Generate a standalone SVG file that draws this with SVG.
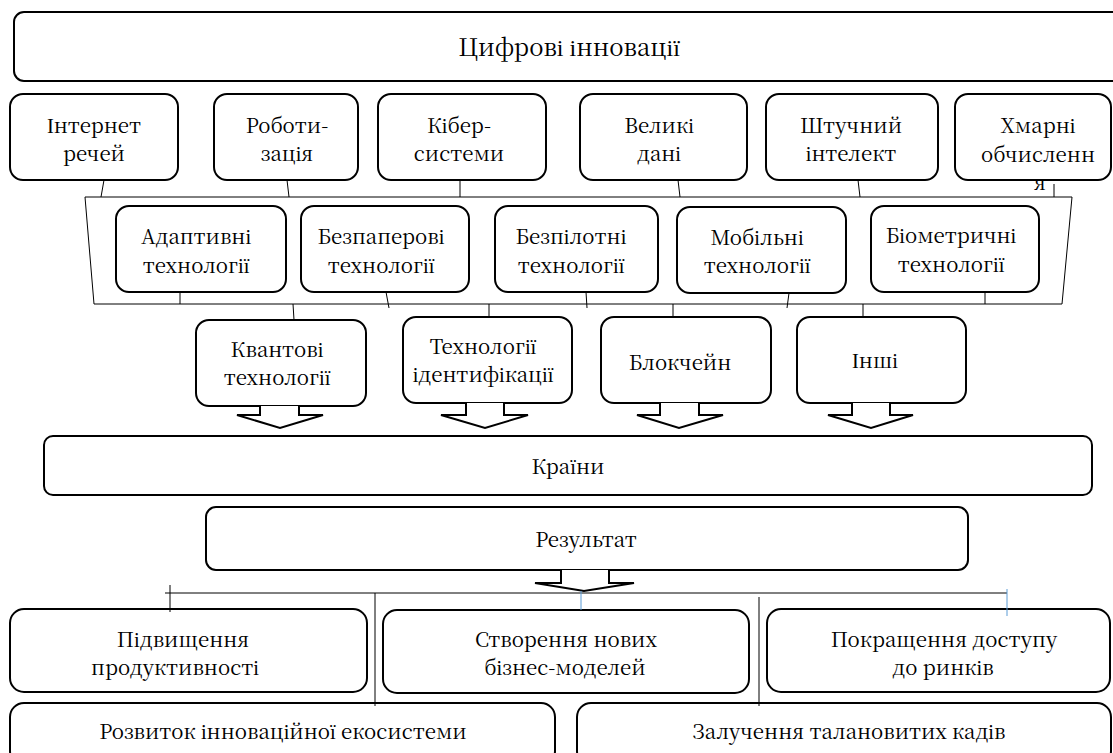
<svg xmlns="http://www.w3.org/2000/svg" width="1113" height="753" viewBox="0 0 1113 753">
<style>
.box{fill:#fff;stroke:#000;stroke-width:2}
.t{font-family:"Noto Serif CJK SC","Liberation Serif",serif;font-size:20.5px;fill:#000;text-anchor:middle}
.big{font-size:24px}
.ln{stroke:#000;stroke-width:1;fill:none}
.arr{fill:#fff;stroke:#000;stroke-width:2;stroke-linejoin:miter}
.blue{stroke:#5b9bd5;stroke-width:1;fill:none}
</style>
<rect width="1113" height="753" fill="#fff"/>
<g id="n_digital"><rect class="box" x="14" y="12" width="1112" height="69" rx="10"/><text class="t big" x="569" y="56">Цифрові інновації</text></g>
<g id="n_iot"><rect class="box" x="10" y="94" width="168" height="86" rx="13"/><text class="t" x="94" y="133">Інтернет</text><text class="t" x="94" y="161">речей</text></g>
<g id="n_robot"><rect class="box" x="214" y="94" width="144" height="86" rx="13"/><text class="t" x="287" y="133">Роботи-</text><text class="t" x="287" y="161">зація</text></g>
<g id="n_cyber"><rect class="box" x="378" y="94" width="168" height="86" rx="13"/><text class="t" x="459" y="133">Кібер-</text><text class="t" x="459" y="161">системи</text></g>
<g id="n_bigdata"><rect class="box" x="580" y="94" width="167" height="86" rx="13"/><text class="t" x="659" y="133">Великі</text><text class="t" x="659" y="161">дані</text></g>
<g id="n_ai"><rect class="box" x="766" y="94" width="172" height="86" rx="13"/><text class="t" x="851" y="133">Штучний</text><text class="t" x="851" y="161">інтелект</text></g>
<g id="n_cloud"><rect class="box" x="955" y="94" width="156" height="86" rx="13"/><text class="t" x="1038" y="133">Хмарні</text><text class="t" x="1038" y="162">обчисленн</text><text class="t" x="1040" y="190">я</text></g>
<g id="n_adaptive"><rect class="box" x="116" y="206" width="170" height="86" rx="13"/><text class="t" x="196" y="244">Адаптивні</text><text class="t" x="196" y="273">технології</text></g>
<g id="n_paperless"><rect class="box" x="301" y="206" width="168" height="86" rx="13"/><text class="t" x="381" y="244">Безпаперові</text><text class="t" x="381" y="273">технології</text></g>
<g id="n_drone"><rect class="box" x="495" y="206" width="163" height="86" rx="13"/><text class="t" x="571" y="244">Безпілотні</text><text class="t" x="571" y="273">технології</text></g>
<g id="n_mobile"><rect class="box" x="677" y="207" width="169" height="86" rx="13"/><text class="t" x="757" y="245">Мобільні</text><text class="t" x="757" y="273">технології</text></g>
<g id="n_biometric"><rect class="box" x="871" y="206" width="168" height="86" rx="13"/><text class="t" x="951" y="243">Біометричні</text><text class="t" x="951" y="272">технології</text></g>
<g id="n_quantum"><rect class="box" x="196" y="320" width="170" height="86" rx="13"/><text class="t" x="277" y="357">Квантові</text><text class="t" x="277" y="385">технології</text></g>
<g id="n_ident"><rect class="box" x="403" y="317" width="169" height="86" rx="13"/><text class="t" x="483" y="354">Технології</text><text class="t" x="483" y="382">ідентифікації</text></g>
<g id="n_blockchain"><rect class="box" x="601" y="317" width="170" height="86" rx="13"/><text class="t" x="680" y="370">Блокчейн</text></g>
<g id="n_other"><rect class="box" x="797" y="317" width="169" height="86" rx="13"/><text class="t" x="875" y="368">Інші</text></g>
<g id="n_countries"><rect class="box" x="44" y="436" width="1048" height="59" rx="9"/><text class="t" x="568" y="474">Країни</text></g>
<g id="n_result"><rect class="box" x="206" y="507" width="762" height="63" rx="10"/><text class="t" x="586" y="547">Результат</text></g>
<g id="n_productivity"><rect class="box" x="10" y="609" width="357" height="83" rx="14"/><text class="t" x="183" y="647">Підвищення</text><text class="t" x="175" y="675">продуктивності</text></g>
<g id="n_business"><rect class="box" x="383" y="610" width="366" height="83" rx="14"/><text class="t" x="566" y="647">Створення нових</text><text class="t" x="565" y="675">бізнес-моделей</text></g>
<g id="n_markets"><rect class="box" x="767" y="609" width="343" height="83" rx="14"/><text class="t" x="944" y="647">Покращення доступу</text><text class="t" x="943" y="675">до ринків</text></g>
<g id="n_ecosystem"><rect class="box" x="10" y="703" width="545" height="62" rx="14"/><text class="t" x="283" y="739">Розвиток інноваційної екосистеми</text></g>
<g id="n_talent"><rect class="box" x="577" y="703" width="534" height="62" rx="14"/><text class="t" x="849" y="739">Залучення талановитих кадів</text></g>
<g id="connectors">
<path class="ln" d="M85,197 H1072 L1062,304 H94 L85,197"/>
<path class="ln" d="M104,180 L101,197 M287,180 L289,197 M460,180 V197 M678,180 L680,197 M858,180 L860,197 M1054,184 V197"/>
<path class="ln" d="M180,292 V304 M386,292 L389,308 M586,292 L587,308 M789,293 L787,308 M985,292 V304"/>
<path class="ln" d="M293,304 L294,320 M489,304 V317 M673,304 V317 M863,304 V317"/>
<path class="arr" d="M260,406 V415 H237 L280,428 L323,415 H299 V406"/>
<path class="arr" d="M466,403 V415 H441 L485,428 L528,415 H504 V403"/>
<path class="arr" d="M660,403 V415 H637 L679,428 L723,415 H699 V403"/>
<path class="arr" d="M852,403 V415 H828 L871,428 L913,415 H890 V403"/>
<path class="arr" d="M561,570 V583 H535 L584,591 L634,583 H609 V570"/>
<path class="ln" d="M165,593 H1007 M170,585 V612 M375,593 V706 M759,597 V706"/>
<path class="blue" d="M581,591 V610 M1007,589 V616"/>
</g>
</svg>
